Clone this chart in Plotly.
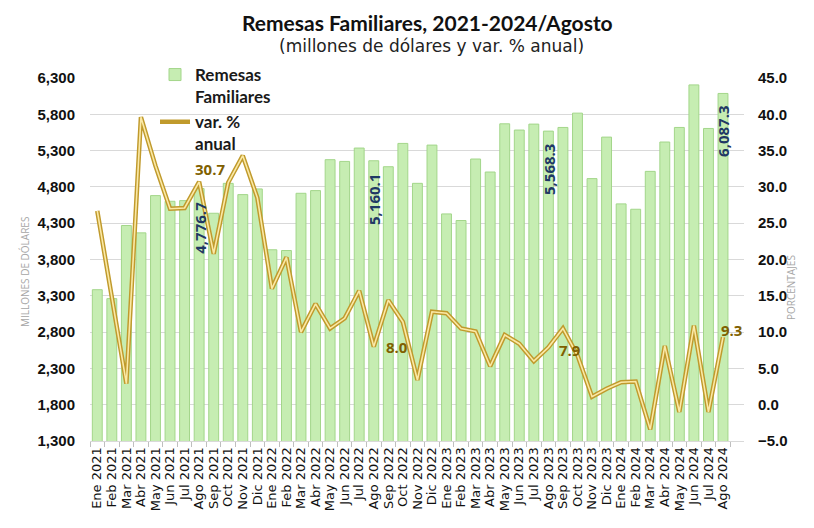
import plotly.graph_objects as go

# ---------------- data ----------------
months = [
    "Ene 2021", "Feb 2021", "Mar 2021", "Abr 2021", "May 2021", "Jun 2021",
    "Jul 2021", "Ago 2021", "Sep 2021", "Oct 2021", "Nov 2021", "Dic 2021",
    "Ene 2022", "Feb 2022", "Mar 2022", "Abr 2022", "May 2022", "Jun 2022",
    "Jul 2022", "Ago 2022", "Sep 2022", "Oct 2022", "Nov 2022", "Dic 2022",
    "Ene 2023", "Feb 2023", "Mar 2023", "Abr 2023", "May 2023", "Jun 2023",
    "Jul 2023", "Ago 2023", "Sep 2023", "Oct 2023", "Nov 2023", "Dic 2023",
    "Ene 2024", "Feb 2024", "Mar 2024", "Abr 2024", "May 2024", "Jun 2024",
    "Jul 2024", "Ago 2024",
]

remesas = [
    3384, 3261, 4268, 4167, 4680, 4602, 4611, 4776.7, 4437, 4849, 4694, 4772,
    3934, 3924, 4712, 4749, 5175, 5151, 5335, 5160.1, 5078, 5399, 4849, 5376,
    4428, 4337, 5184, 5005, 5669, 5583, 5665, 5568.3, 5619, 5816, 4914, 5486,
    4566, 4492, 5014, 5418, 5619, 6205, 5605, 6087.3,
]

var_anual = [
    26.7, 14.8, 2.9, 39.6, 32.9, 27.0, 27.1, 30.7, 20.8, 30.6, 34.3, 28.5,
    16.0, 20.3, 10.0, 13.9, 10.5, 11.9, 15.7, 8.0, 14.4, 11.4, 3.4, 12.8,
    12.6, 10.5, 10.1, 5.3, 9.6, 8.4, 6.0, 7.9, 10.5, 6.8, 1.1, 2.2,
    3.1, 3.2, -3.4, 8.1, -1.0, 10.9, -1.0, 9.3,
]

label_months = ["Ago 2021", "Ago 2022", "Ago 2023", "Ago 2024"]

left_ticks = [1300, 1800, 2300, 2800, 3300, 3800, 4300, 4800, 5300, 5800, 6300]
right_ticks = [-5, 0, 5, 10, 15, 20, 25, 30, 35, 40, 45]

title_text = "Remesas Familiares, 2021-2024/Agosto"
subtitle_text = "(millones de dólares y var. % anual)"

# ---------------- styles ----------------
# The page body adds an 8px margin on every side; the figure is sized so the
# page does not overflow the 814x528 window, and margins are set in page pixels.
OFF = 8
W, H = 814 - 2 * OFF, 528 - 2 * OFF
PLOT_LEFT, PLOT_RIGHT, PLOT_TOP, PLOT_BOTTOM = 90, 744, 78, 441  # page pixels

line_label_shift = {"Ago 2021": (-6, 13), "Ago 2022": (10, 0), "Ago 2023": (9, -3), "Ago 2024": (-4, 7)}
BAR_FILL = "#C6EDB2"
BAR_EDGE = "#A3D68A"
GOLD = "#C09A2C"
GOLD_IN = "#FBE9A6"
NAVY = "#1F3864"
BROWN = "#7F6000"
GRID = "#D9D9D9"


def py(px):
    return (PLOT_BOTTOM - px) / (PLOT_BOTTOM - PLOT_TOP)


def pxx(px):
    return (px - PLOT_LEFT) / (PLOT_RIGHT - PLOT_LEFT)


fig = go.Figure()

fig.add_trace(go.Bar(
    x=months, y=remesas, name="Remesas<br>Familiares",
    marker=dict(color=BAR_FILL, line=dict(color=BAR_EDGE, width=1)),
    yaxis="y",
))

fig.add_trace(go.Scatter(
    x=months, y=var_anual, name="var. %<br>anual", mode="lines",
    line=dict(color=GOLD, width=4.5), yaxis="y2",
))
fig.add_trace(go.Scatter(
    x=months, y=var_anual, name="var", mode="lines", showlegend=False,
    line=dict(color=GOLD_IN, width=1.6), yaxis="y2", hoverinfo="skip",
))

annotations = []
for m in label_months:
    i = months.index(m)
    annotations.append(dict(
        x=m, y=remesas[i], xref="x", yref="y", text=f"{remesas[i]:,.1f}",
        textangle=-90, showarrow=False, yanchor="top", xanchor="center",
        yshift=-11, font=dict(family="Open Sans", size=15, color=NAVY, weight="bold"),
    ))
    dx, dy = line_label_shift[m]
    annotations.append(dict(
        x=m, y=var_anual[i], xref="x", yref="y2", text=f"{var_anual[i]:.1f}",
        showarrow=False, xanchor="left", yanchor="middle", xshift=dx, yshift=dy,
        font=dict(family="Open Sans", size=15, color=BROWN, weight="bold"),
    ))

annotations += [
    dict(text=f"<b>{title_text}</b>", x=pxx(427), y=py(22), xref="paper", yref="paper",
         xanchor="center", yanchor="middle", showarrow=False,
         font=dict(family="Lato", size=21, color="#111111")),
    dict(text=subtitle_text, x=pxx(431), y=py(46), xref="paper", yref="paper",
         xanchor="center", yanchor="middle", showarrow=False,
         font=dict(family="DejaVu Sans", size=17, color="#222222")),
    dict(text="MILLONES DE DÓLARES", textangle=-90, x=pxx(16), y=py(272),
         xref="paper", yref="paper", showarrow=False,
         font=dict(family="Open Sans", size=10, color="#A6A6A6")),
    dict(text="PORCENTAJES", textangle=-90, x=pxx(800), y=py(288),
         xref="paper", yref="paper", showarrow=False,
         font=dict(family="Open Sans", size=10, color="#A6A6A6")),
]

fig.update_layout(
    width=W, height=H,
    margin=dict(l=PLOT_LEFT - OFF, r=OFF + W - PLOT_RIGHT, t=PLOT_TOP - OFF,
                b=OFF + H - PLOT_BOTTOM, autoexpand=False),
    paper_bgcolor="white", plot_bgcolor="white",
    bargap=0.32,
    showlegend=True,
    legend=dict(x=(155 - OFF) / W, y=1 - (57 - OFF) / H, xref="container", yref="container",
                xanchor="left", yanchor="top",
                bgcolor="rgba(0,0,0,0)", valign="top", tracegroupgap=0,
                font=dict(family="Lato", size=17, color="#1a1a1a", weight="bold"),
                itemwidth=30),
    xaxis=dict(
        type="category", tickmode="array", tickvals=months, ticktext=months,
        tickangle=-90, tickfont=dict(family="DejaVu Sans", size=13, color="#111111"),
        showgrid=False, showline=True, linecolor=GRID, ticks="outside", tickson="boundaries",
        ticklen=5, tickcolor="#BFBFBF", automargin=False,
    ),
    yaxis=dict(
        range=[1300, 6300], tickvals=left_ticks, tickformat=",d",
        tickfont=dict(family="Liberation Sans", size=15, color="#111111", weight="bold"),
        showgrid=True, gridcolor=GRID, gridwidth=1, zeroline=False, ticklabelstandoff=14,
        automargin=False,
    ),
    yaxis2=dict(
        range=[-5, 45], tickvals=right_ticks, tickformat=".1f", overlaying="y", side="right",
        tickfont=dict(family="Liberation Sans", size=15, color="#111111", weight="bold"),
        showgrid=False, zeroline=False, ticklabelstandoff=13, automargin=False,
    ),
    annotations=annotations,
)

fig.write_html("out.html")
